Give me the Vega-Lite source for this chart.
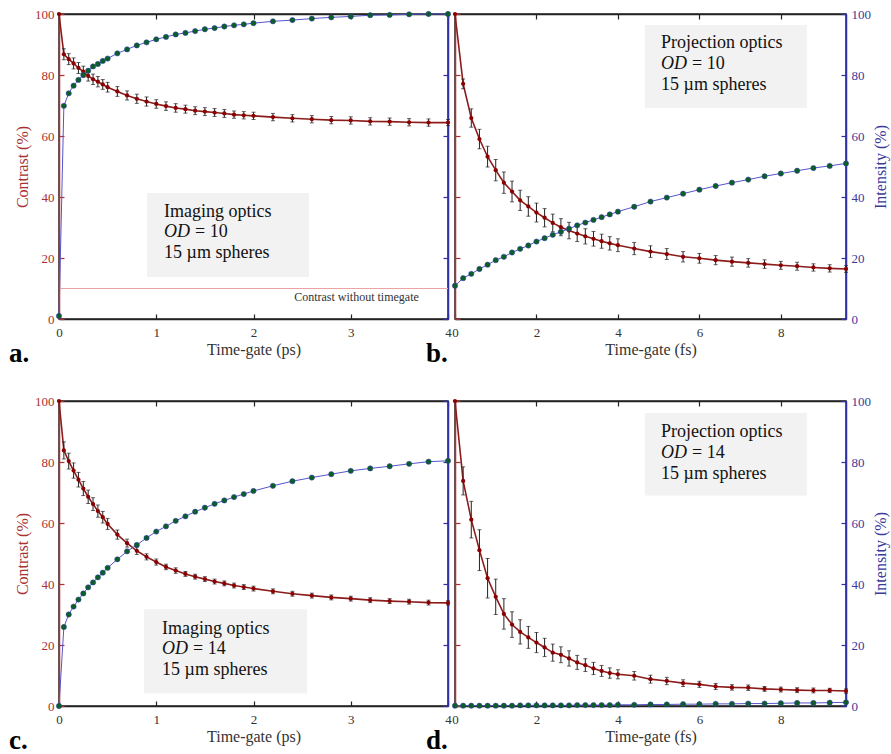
{
  "$schema": "https://vega.github.io/schema/vega-lite/v6.json",
  "padding": {"left": 8, "top": 7, "right": 1, "bottom": 0},
  "background": "white",
  "config": {
    "font": "Liberation Serif",
    "view": {"stroke": "#222", "strokeWidth": 1.5},
    "axis": {"grid": false, "tickSize": -5, "tickWidth": 1.2, "domainWidth": 1.5, "labelFont": "Liberation Serif", "titleFont": "Liberation Serif", "labelFontSize": 13, "titleFontSize": 16, "titleFontWeight": "normal", "labelPadding": 10, "titlePadding": 4, "labelFlush": false},
    "axisLeft": {"domainColor": "#b03030", "tickColor": "#b03030", "labelColor": "#a83232", "titleColor": "#a83232"},
    "axisRight": {"domainColor": "#3030a8", "tickColor": "#3030a8", "labelColor": "#3a3a9c", "titleColor": "#3a3a9c"},
    "axisBottom": {"domainColor": "#222", "tickColor": "#222", "labelColor": "#333", "titleColor": "#333", "labelPadding": 12, "titlePadding": 2},
    "axisTop": {"domainColor": "#222", "tickColor": "#222", "labels": false},
    "title": {"font": "Liberation Serif", "fontSize": 27, "fontWeight": "bold", "color": "black"}
  },
  "datasets": {
    "a": [
      {"t": 0, "c": 100, "e": 0, "i": 1},
      {"t": 0.05, "c": 86.8, "e": 1.8, "i": 69.9},
      {"t": 0.1, "c": 85.2, "e": 1.8, "i": 74.0},
      {"t": 0.15, "c": 83.8, "e": 1.8, "i": 76.5},
      {"t": 0.2, "c": 82.3, "e": 1.8, "i": 78.4},
      {"t": 0.25, "c": 81.1, "e": 1.8, "i": 80.0},
      {"t": 0.3, "c": 79.7, "e": 1.7, "i": 81.4},
      {"t": 0.35, "c": 78.6, "e": 1.7, "i": 82.8},
      {"t": 0.4, "c": 77.8, "e": 1.7, "i": 83.6},
      {"t": 0.45, "c": 76.9, "e": 1.6, "i": 84.6},
      {"t": 0.5, "c": 76.0, "e": 1.6, "i": 85.4},
      {"t": 0.6, "c": 74.6, "e": 1.6, "i": 87.1},
      {"t": 0.7, "c": 73.3, "e": 1.5, "i": 88.4},
      {"t": 0.8, "c": 72.2, "e": 1.5, "i": 89.7},
      {"t": 0.9, "c": 71.3, "e": 1.5, "i": 90.7},
      {"t": 1.0, "c": 70.5, "e": 1.4, "i": 91.7},
      {"t": 1.1, "c": 69.8, "e": 1.4, "i": 92.5},
      {"t": 1.2, "c": 69.2, "e": 1.4, "i": 93.3},
      {"t": 1.3, "c": 68.8, "e": 1.3, "i": 93.8},
      {"t": 1.4, "c": 68.3, "e": 1.3, "i": 94.4},
      {"t": 1.5, "c": 68.0, "e": 1.3, "i": 95.0},
      {"t": 1.6, "c": 67.7, "e": 1.3, "i": 95.4},
      {"t": 1.7, "c": 67.4, "e": 1.3, "i": 95.9},
      {"t": 1.8, "c": 67.0, "e": 1.2, "i": 96.3},
      {"t": 1.9, "c": 66.8, "e": 1.2, "i": 96.6},
      {"t": 2.0, "c": 66.6, "e": 1.2, "i": 97.0},
      {"t": 2.2, "c": 66.2, "e": 1.2, "i": 97.6},
      {"t": 2.4, "c": 65.8, "e": 1.2, "i": 98.0},
      {"t": 2.6, "c": 65.5, "e": 1.2, "i": 98.5},
      {"t": 2.8, "c": 65.2, "e": 1.2, "i": 98.9},
      {"t": 3.0, "c": 65.1, "e": 1.2, "i": 99.2},
      {"t": 3.2, "c": 64.8, "e": 1.2, "i": 99.6},
      {"t": 3.4, "c": 64.7, "e": 1.2, "i": 99.7},
      {"t": 3.6, "c": 64.5, "e": 1.2, "i": 99.9},
      {"t": 3.8, "c": 64.4, "e": 1.2, "i": 100},
      {"t": 4.0, "c": 64.4, "e": 1.0, "i": 100}
    ],
    "b": [
      {"t": 0, "c": 100, "e": 0, "i": 10.9},
      {"t": 0.2, "c": 77.1, "e": 1.6, "i": 13.4},
      {"t": 0.4, "c": 65.9, "e": 3.0, "i": 14.8},
      {"t": 0.6, "c": 59.0, "e": 3.2, "i": 16.4},
      {"t": 0.8, "c": 53.2, "e": 3.4, "i": 17.8},
      {"t": 1.0, "c": 48.8, "e": 3.5, "i": 19.3},
      {"t": 1.2, "c": 44.7, "e": 3.5, "i": 20.4},
      {"t": 1.4, "c": 41.8, "e": 3.4, "i": 21.8},
      {"t": 1.6, "c": 38.9, "e": 3.3, "i": 23.0},
      {"t": 1.8, "c": 36.9, "e": 3.2, "i": 24.1},
      {"t": 2.0, "c": 34.9, "e": 3.1, "i": 25.4},
      {"t": 2.2, "c": 33.2, "e": 3.0, "i": 26.5},
      {"t": 2.4, "c": 31.5, "e": 2.9, "i": 27.6},
      {"t": 2.6, "c": 30.1, "e": 2.8, "i": 28.6},
      {"t": 2.8, "c": 29.0, "e": 2.7, "i": 29.6},
      {"t": 3.0, "c": 28.0, "e": 2.6, "i": 30.7},
      {"t": 3.2, "c": 27.1, "e": 2.5, "i": 31.6},
      {"t": 3.4, "c": 26.3, "e": 2.4, "i": 32.5},
      {"t": 3.6, "c": 25.5, "e": 2.3, "i": 33.4},
      {"t": 3.8, "c": 24.8, "e": 2.2, "i": 34.3},
      {"t": 4.0, "c": 24.2, "e": 2.1, "i": 35.2},
      {"t": 4.4, "c": 23.1, "e": 2.0, "i": 36.8},
      {"t": 4.8, "c": 22.1, "e": 1.9, "i": 38.5},
      {"t": 5.2, "c": 21.3, "e": 1.8, "i": 39.8},
      {"t": 5.6, "c": 20.4, "e": 1.7, "i": 41.1},
      {"t": 6.0, "c": 19.9, "e": 1.6, "i": 42.4},
      {"t": 6.4, "c": 19.3, "e": 1.5, "i": 43.6},
      {"t": 6.8, "c": 18.8, "e": 1.5, "i": 44.7},
      {"t": 7.2, "c": 18.4, "e": 1.4, "i": 45.7},
      {"t": 7.6, "c": 18.0, "e": 1.4, "i": 46.8},
      {"t": 8.0, "c": 17.6, "e": 1.3, "i": 47.7},
      {"t": 8.4, "c": 17.3, "e": 1.3, "i": 48.6},
      {"t": 8.8, "c": 16.9, "e": 1.2, "i": 49.5},
      {"t": 9.2, "c": 16.6, "e": 1.2, "i": 50.2},
      {"t": 9.6, "c": 16.4, "e": 1.1, "i": 51.0}
    ],
    "c": [
      {"t": 0, "c": 100, "e": 0, "i": 0},
      {"t": 0.05, "c": 83.8, "e": 2.8, "i": 25.9},
      {"t": 0.1, "c": 80.3, "e": 2.6, "i": 30.0},
      {"t": 0.15, "c": 77.2, "e": 2.5, "i": 32.6},
      {"t": 0.2, "c": 74.2, "e": 2.4, "i": 34.9},
      {"t": 0.25, "c": 71.3, "e": 2.3, "i": 36.9},
      {"t": 0.3, "c": 68.6, "e": 2.2, "i": 38.9},
      {"t": 0.35, "c": 66.2, "e": 2.1, "i": 40.5},
      {"t": 0.4, "c": 63.9, "e": 2.0, "i": 42.2},
      {"t": 0.45, "c": 61.9, "e": 1.9, "i": 43.7},
      {"t": 0.5, "c": 59.7, "e": 1.8, "i": 45.3},
      {"t": 0.6, "c": 56.2, "e": 1.5, "i": 48.1},
      {"t": 0.7, "c": 53.4, "e": 1.3, "i": 50.7},
      {"t": 0.8, "c": 50.9, "e": 1.2, "i": 52.8},
      {"t": 0.9, "c": 48.9, "e": 1.0, "i": 55.1},
      {"t": 1.0, "c": 47.2, "e": 1.0, "i": 57.2},
      {"t": 1.1, "c": 45.6, "e": 0.9, "i": 58.9},
      {"t": 1.2, "c": 44.4, "e": 0.9, "i": 60.7},
      {"t": 1.3, "c": 43.3, "e": 0.8, "i": 62.2},
      {"t": 1.4, "c": 42.4, "e": 0.8, "i": 63.7},
      {"t": 1.5, "c": 41.6, "e": 0.8, "i": 65.0},
      {"t": 1.6, "c": 40.8, "e": 0.8, "i": 66.3},
      {"t": 1.7, "c": 40.2, "e": 0.8, "i": 67.4},
      {"t": 1.8, "c": 39.5, "e": 0.8, "i": 68.5},
      {"t": 1.9, "c": 39.0, "e": 0.8, "i": 69.5},
      {"t": 2.0, "c": 38.5, "e": 0.8, "i": 70.5},
      {"t": 2.2, "c": 37.6, "e": 0.8, "i": 72.2},
      {"t": 2.4, "c": 36.8, "e": 0.8, "i": 73.7},
      {"t": 2.6, "c": 36.2, "e": 0.8, "i": 74.9},
      {"t": 2.8, "c": 35.6, "e": 0.8, "i": 76.0},
      {"t": 3.0, "c": 35.2, "e": 0.8, "i": 77.1},
      {"t": 3.2, "c": 34.7, "e": 0.8, "i": 77.9},
      {"t": 3.4, "c": 34.4, "e": 0.8, "i": 78.6},
      {"t": 3.6, "c": 34.2, "e": 0.8, "i": 79.4},
      {"t": 3.8, "c": 33.9, "e": 0.8, "i": 80.1},
      {"t": 4.0, "c": 33.8, "e": 0.7, "i": 80.4}
    ],
    "d": [
      {"t": 0, "c": 100, "e": 0, "i": 0.1},
      {"t": 0.2, "c": 73.8, "e": 4.6, "i": 0.1},
      {"t": 0.4, "c": 61.1, "e": 6.0, "i": 0.1},
      {"t": 0.6, "c": 51.1, "e": 6.7, "i": 0.1},
      {"t": 0.8, "c": 41.9, "e": 6.5, "i": 0.1},
      {"t": 1.0, "c": 35.8, "e": 5.8, "i": 0.1},
      {"t": 1.2, "c": 30.2, "e": 5.0, "i": 0.1},
      {"t": 1.4, "c": 26.7, "e": 4.2, "i": 0.1},
      {"t": 1.6, "c": 24.3, "e": 4.0, "i": 0.2},
      {"t": 1.8, "c": 22.5, "e": 3.6, "i": 0.2},
      {"t": 2.0, "c": 20.8, "e": 3.3, "i": 0.2},
      {"t": 2.2, "c": 19.2, "e": 3.0, "i": 0.2},
      {"t": 2.4, "c": 17.5, "e": 2.8, "i": 0.2},
      {"t": 2.6, "c": 16.8, "e": 2.6, "i": 0.2},
      {"t": 2.8, "c": 15.6, "e": 2.5, "i": 0.2},
      {"t": 3.0, "c": 14.3, "e": 2.3, "i": 0.3},
      {"t": 3.2, "c": 13.4, "e": 2.1, "i": 0.3},
      {"t": 3.4, "c": 12.3, "e": 2.0, "i": 0.3},
      {"t": 3.6, "c": 11.5, "e": 1.8, "i": 0.3},
      {"t": 3.8, "c": 10.8, "e": 1.7, "i": 0.3},
      {"t": 4.0, "c": 10.4, "e": 1.5, "i": 0.4},
      {"t": 4.4, "c": 9.9, "e": 1.4, "i": 0.4},
      {"t": 4.8, "c": 8.8, "e": 1.3, "i": 0.5},
      {"t": 5.2, "c": 8.2, "e": 1.2, "i": 0.5},
      {"t": 5.6, "c": 7.5, "e": 1.1, "i": 0.6},
      {"t": 6.0, "c": 7.1, "e": 1.0, "i": 0.6},
      {"t": 6.4, "c": 6.4, "e": 1.0, "i": 0.7},
      {"t": 6.8, "c": 6.1, "e": 0.9, "i": 0.7},
      {"t": 7.2, "c": 6.0, "e": 0.9, "i": 0.8},
      {"t": 7.6, "c": 5.6, "e": 0.8, "i": 0.8},
      {"t": 8.0, "c": 5.4, "e": 0.8, "i": 0.9},
      {"t": 8.4, "c": 5.2, "e": 0.8, "i": 1.0},
      {"t": 8.8, "c": 5.1, "e": 0.8, "i": 1.0},
      {"t": 9.2, "c": 5.1, "e": 0.7, "i": 1.1},
      {"t": 9.6, "c": 4.9, "e": 0.7, "i": 1.2}
    ]
  },
  "bounds": "flush",
  "columns": 2,
  "spacing": {"row": 82, "column": 7},
  "concat": [
    {
      "width": 389, "height": 305,
      "title": {"text": "a.", "orient": "bottom", "anchor": "start", "frame": "group", "dx": -50, "dy": -16, "offset": 0},
      "layer": [
        {"data": {"values": [{}]}, "mark": {"type": "rect", "fill": "#f2f2f2"},
         "encoding": {
           "x": {"datum": 0.905, "type": "quantitative", "scale": {"domain": [0, 4], "nice": false, "zero": false}, "axis": {"orient": "bottom", "values": [0, 1, 2, 3, 4], "title": "Time-gate (ps)"}},
           "x2": {"datum": 2.571},
           "y": {"datum": 41.3, "type": "quantitative", "scale": {"domain": [0, 100], "nice": false}, "axis": {"orient": "left", "values": [0, 20, 40, 60, 80, 100], "title": "Contrast (%)"}},
           "y2": {"datum": 13.8}}},
        {"data": {"values": [{}]}, "mark": {"type": "text", "align": "left", "baseline": "middle", "fontSize": 18, "color": "#111"},
         "encoding": {"x": {"datum": 1.08, "type": "quantitative", "axis": null}, "y": {"datum": 35.1, "type": "quantitative", "axis": null}, "text": {"value": "Imaging optics"}}},
        {"data": {"values": [{}]}, "mark": {"type": "text", "align": "left", "baseline": "middle", "fontSize": 18, "fontStyle": "italic", "color": "#111"},
         "encoding": {"x": {"datum": 1.08, "type": "quantitative", "axis": null}, "y": {"datum": 28.5, "type": "quantitative", "axis": null}, "text": {"value": "OD"}}},
        {"data": {"values": [{}]}, "mark": {"type": "text", "align": "left", "baseline": "middle", "fontSize": 18, "dx": 31, "color": "#111"},
         "encoding": {"x": {"datum": 1.08, "type": "quantitative", "axis": null}, "y": {"datum": 28.5, "type": "quantitative", "axis": null}, "text": {"value": "= 10"}}},
        {"data": {"values": [{}]}, "mark": {"type": "text", "align": "left", "baseline": "middle", "fontSize": 18, "color": "#111"},
         "encoding": {"x": {"datum": 1.08, "type": "quantitative", "axis": null}, "y": {"datum": 21.6, "type": "quantitative", "axis": null}, "text": {"value": "15 µm spheres"}}},
        {"data": {"values": [{}]}, "mark": {"type": "rule", "color": "#eba3a3", "strokeWidth": 1},
         "encoding": {"x": {"datum": 0, "type": "quantitative", "axis": null}, "x2": {"datum": 4}, "y": {"datum": 10, "type": "quantitative", "axis": null}}},
        {"data": {"values": [{}]}, "mark": {"type": "text", "align": "right", "baseline": "middle", "fontSize": 12, "color": "#333"},
         "encoding": {"x": {"datum": 3.7, "type": "quantitative", "axis": null}, "y": {"datum": 7.2, "type": "quantitative", "axis": null}, "text": {"value": "Contrast without timegate"}}},
        {"data": {"name": "a"}, "mark": {"type": "line", "color": "#8b1c1c", "strokeWidth": 1.6},
         "encoding": {"x": {"field": "t", "type": "quantitative", "axis": null}, "y": {"field": "c", "type": "quantitative", "axis": null}}},
        {"data": {"name": "a"}, "mark": {"type": "errorbar", "color": "#222", "thickness": 1, "ticks": {"size": 4, "thickness": 1, "color": "#222"}},
         "encoding": {"x": {"field": "t", "type": "quantitative", "axis": null}, "y": {"field": "c", "type": "quantitative", "axis": null}, "yError": {"field": "e"}}},
        {"data": {"name": "a"}, "mark": {"type": "circle", "color": "#8b0000", "size": 18, "opacity": 1},
         "encoding": {"x": {"field": "t", "type": "quantitative", "axis": null}, "y": {"field": "c", "type": "quantitative", "axis": null}}},
        {"data": {"name": "a"}, "mark": {"type": "line", "color": "#5555cc", "strokeWidth": 1},
         "encoding": {"x": {"field": "t", "type": "quantitative", "axis": null}, "y": {"field": "i", "type": "quantitative", "axis": null}}},
        {"data": {"name": "a"}, "mark": {"type": "point", "shape": "circle", "filled": true, "fill": "#0a5f24", "stroke": "#3a3ab8", "strokeWidth": 0.5, "size": 28, "opacity": 1},
         "encoding": {"x": {"field": "t", "type": "quantitative", "axis": {"orient": "top", "values": [0, 1, 2, 3, 4], "title": null, "labels": false}},
                      "y": {"field": "i", "type": "quantitative", "axis": {"orient": "right", "values": [0, 20, 40, 60, 80, 100], "labels": false, "title": null}}}}
      ]
    },
    {
      "width": 391, "height": 305,
      "title": {"text": "b.", "orient": "bottom", "anchor": "start", "frame": "group", "dx": -29, "dy": -16, "offset": 0},
      "layer": [
        {"data": {"values": [{}]}, "mark": {"type": "rect", "fill": "#f2f2f2"},
         "encoding": {
           "x": {"datum": 4.66, "type": "quantitative", "scale": {"domain": [0, 9.6], "nice": false, "zero": false}, "axis": {"orient": "bottom", "values": [0, 2, 4, 6, 8], "title": "Time-gate (fs)"}},
           "x2": {"datum": 8.64},
           "y": {"datum": 96.4, "type": "quantitative", "scale": {"domain": [0, 100], "nice": false}, "axis": {"orient": "left", "values": [0, 20, 40, 60, 80, 100], "labels": false, "title": null}},
           "y2": {"datum": 69.2}}},
        {"data": {"values": [{}]}, "mark": {"type": "text", "align": "left", "baseline": "middle", "fontSize": 18, "color": "#111"},
         "encoding": {"x": {"datum": 5.06, "type": "quantitative", "axis": null}, "y": {"datum": 90.5, "type": "quantitative", "axis": null}, "text": {"value": "Projection optics"}}},
        {"data": {"values": [{}]}, "mark": {"type": "text", "align": "left", "baseline": "middle", "fontSize": 18, "fontStyle": "italic", "color": "#111"},
         "encoding": {"x": {"datum": 5.06, "type": "quantitative", "axis": null}, "y": {"datum": 83.6, "type": "quantitative", "axis": null}, "text": {"value": "OD"}}},
        {"data": {"values": [{}]}, "mark": {"type": "text", "align": "left", "baseline": "middle", "fontSize": 18, "dx": 31, "color": "#111"},
         "encoding": {"x": {"datum": 5.06, "type": "quantitative", "axis": null}, "y": {"datum": 83.6, "type": "quantitative", "axis": null}, "text": {"value": "= 10"}}},
        {"data": {"values": [{}]}, "mark": {"type": "text", "align": "left", "baseline": "middle", "fontSize": 18, "color": "#111"},
         "encoding": {"x": {"datum": 5.06, "type": "quantitative", "axis": null}, "y": {"datum": 76.7, "type": "quantitative", "axis": null}, "text": {"value": "15 µm spheres"}}},
        {"data": {"name": "b"}, "mark": {"type": "line", "color": "#8b1c1c", "strokeWidth": 1.6},
         "encoding": {"x": {"field": "t", "type": "quantitative", "axis": null}, "y": {"field": "c", "type": "quantitative", "axis": null}}},
        {"data": {"name": "b"}, "mark": {"type": "errorbar", "color": "#222", "thickness": 1, "ticks": {"size": 4, "thickness": 1, "color": "#222"}},
         "encoding": {"x": {"field": "t", "type": "quantitative", "axis": null}, "y": {"field": "c", "type": "quantitative", "axis": null}, "yError": {"field": "e"}}},
        {"data": {"name": "b"}, "mark": {"type": "circle", "color": "#8b0000", "size": 18, "opacity": 1},
         "encoding": {"x": {"field": "t", "type": "quantitative", "axis": null}, "y": {"field": "c", "type": "quantitative", "axis": null}}},
        {"data": {"name": "b"}, "mark": {"type": "line", "color": "#5555cc", "strokeWidth": 1},
         "encoding": {"x": {"field": "t", "type": "quantitative", "axis": null}, "y": {"field": "i", "type": "quantitative", "axis": null}}},
        {"data": {"name": "b"}, "mark": {"type": "point", "shape": "circle", "filled": true, "fill": "#0a5f24", "stroke": "#3a3ab8", "strokeWidth": 0.5, "size": 28, "opacity": 1},
         "encoding": {"x": {"field": "t", "type": "quantitative", "axis": {"orient": "top", "values": [0, 2, 4, 6, 8], "title": null, "labels": false}},
                      "y": {"field": "i", "type": "quantitative", "axis": {"orient": "right", "values": [0, 20, 40, 60, 80, 100], "title": "Intensity (%)", "titleAngle": 270, "titleBaseline": "top", "titlePadding": 2}}}}
      ]
    },
    {
      "width": 389, "height": 305,
      "title": {"text": "c.", "orient": "bottom", "anchor": "start", "frame": "group", "dx": -50, "dy": -16, "offset": 0},
      "layer": [
        {"data": {"values": [{}]}, "mark": {"type": "rect", "fill": "#f2f2f2"},
         "encoding": {
           "x": {"datum": 0.874, "type": "quantitative", "scale": {"domain": [0, 4], "nice": false, "zero": false}, "axis": {"orient": "bottom", "values": [0, 1, 2, 3, 4], "title": "Time-gate (ps)"}},
           "x2": {"datum": 2.55},
           "y": {"datum": 31.7, "type": "quantitative", "scale": {"domain": [0, 100], "nice": false}, "axis": {"orient": "left", "values": [0, 20, 40, 60, 80, 100], "title": "Contrast (%)"}},
           "y2": {"datum": 4.2}}},
        {"data": {"values": [{}]}, "mark": {"type": "text", "align": "left", "baseline": "middle", "fontSize": 18, "color": "#111"},
         "encoding": {"x": {"datum": 1.06, "type": "quantitative", "axis": null}, "y": {"datum": 25.2, "type": "quantitative", "axis": null}, "text": {"value": "Imaging optics"}}},
        {"data": {"values": [{}]}, "mark": {"type": "text", "align": "left", "baseline": "middle", "fontSize": 18, "fontStyle": "italic", "color": "#111"},
         "encoding": {"x": {"datum": 1.06, "type": "quantitative", "axis": null}, "y": {"datum": 18.6, "type": "quantitative", "axis": null}, "text": {"value": "OD"}}},
        {"data": {"values": [{}]}, "mark": {"type": "text", "align": "left", "baseline": "middle", "fontSize": 18, "dx": 31, "color": "#111"},
         "encoding": {"x": {"datum": 1.06, "type": "quantitative", "axis": null}, "y": {"datum": 18.6, "type": "quantitative", "axis": null}, "text": {"value": "= 14"}}},
        {"data": {"values": [{}]}, "mark": {"type": "text", "align": "left", "baseline": "middle", "fontSize": 18, "color": "#111"},
         "encoding": {"x": {"datum": 1.06, "type": "quantitative", "axis": null}, "y": {"datum": 11.8, "type": "quantitative", "axis": null}, "text": {"value": "15 µm spheres"}}},
        {"data": {"name": "c"}, "mark": {"type": "line", "color": "#8b1c1c", "strokeWidth": 1.6},
         "encoding": {"x": {"field": "t", "type": "quantitative", "axis": null}, "y": {"field": "c", "type": "quantitative", "axis": null}}},
        {"data": {"name": "c"}, "mark": {"type": "errorbar", "color": "#222", "thickness": 1, "ticks": {"size": 4, "thickness": 1, "color": "#222"}},
         "encoding": {"x": {"field": "t", "type": "quantitative", "axis": null}, "y": {"field": "c", "type": "quantitative", "axis": null}, "yError": {"field": "e"}}},
        {"data": {"name": "c"}, "mark": {"type": "circle", "color": "#8b0000", "size": 18, "opacity": 1},
         "encoding": {"x": {"field": "t", "type": "quantitative", "axis": null}, "y": {"field": "c", "type": "quantitative", "axis": null}}},
        {"data": {"name": "c"}, "mark": {"type": "line", "color": "#5555cc", "strokeWidth": 1},
         "encoding": {"x": {"field": "t", "type": "quantitative", "axis": null}, "y": {"field": "i", "type": "quantitative", "axis": null}}},
        {"data": {"name": "c"}, "mark": {"type": "point", "shape": "circle", "filled": true, "fill": "#0a5f24", "stroke": "#3a3ab8", "strokeWidth": 0.5, "size": 28, "opacity": 1},
         "encoding": {"x": {"field": "t", "type": "quantitative", "axis": {"orient": "top", "values": [0, 1, 2, 3, 4], "title": null, "labels": false}},
                      "y": {"field": "i", "type": "quantitative", "axis": {"orient": "right", "values": [0, 20, 40, 60, 80, 100], "labels": false, "title": null}}}}
      ]
    },
    {
      "width": 391, "height": 305,
      "title": {"text": "d.", "orient": "bottom", "anchor": "start", "frame": "group", "dx": -29, "dy": -16, "offset": 0},
      "layer": [
        {"data": {"values": [{}]}, "mark": {"type": "rect", "fill": "#f2f2f2"},
         "encoding": {
           "x": {"datum": 4.66, "type": "quantitative", "scale": {"domain": [0, 9.6], "nice": false, "zero": false}, "axis": {"orient": "bottom", "values": [0, 2, 4, 6, 8], "title": "Time-gate (fs)"}},
           "x2": {"datum": 8.64},
           "y": {"datum": 96.1, "type": "quantitative", "scale": {"domain": [0, 100], "nice": false}, "axis": {"orient": "left", "values": [0, 20, 40, 60, 80, 100], "labels": false, "title": null}},
           "y2": {"datum": 69.0}}},
        {"data": {"values": [{}]}, "mark": {"type": "text", "align": "left", "baseline": "middle", "fontSize": 18, "color": "#111"},
         "encoding": {"x": {"datum": 5.06, "type": "quantitative", "axis": null}, "y": {"datum": 89.9, "type": "quantitative", "axis": null}, "text": {"value": "Projection optics"}}},
        {"data": {"values": [{}]}, "mark": {"type": "text", "align": "left", "baseline": "middle", "fontSize": 18, "fontStyle": "italic", "color": "#111"},
         "encoding": {"x": {"datum": 5.06, "type": "quantitative", "axis": null}, "y": {"datum": 83.0, "type": "quantitative", "axis": null}, "text": {"value": "OD"}}},
        {"data": {"values": [{}]}, "mark": {"type": "text", "align": "left", "baseline": "middle", "fontSize": 18, "dx": 31, "color": "#111"},
         "encoding": {"x": {"datum": 5.06, "type": "quantitative", "axis": null}, "y": {"datum": 83.0, "type": "quantitative", "axis": null}, "text": {"value": "= 14"}}},
        {"data": {"values": [{}]}, "mark": {"type": "text", "align": "left", "baseline": "middle", "fontSize": 18, "color": "#111"},
         "encoding": {"x": {"datum": 5.06, "type": "quantitative", "axis": null}, "y": {"datum": 76.1, "type": "quantitative", "axis": null}, "text": {"value": "15 µm spheres"}}},
        {"data": {"name": "d"}, "mark": {"type": "line", "color": "#8b1c1c", "strokeWidth": 1.6},
         "encoding": {"x": {"field": "t", "type": "quantitative", "axis": null}, "y": {"field": "c", "type": "quantitative", "axis": null}}},
        {"data": {"name": "d"}, "mark": {"type": "errorbar", "color": "#222", "thickness": 1, "ticks": {"size": 4, "thickness": 1, "color": "#222"}},
         "encoding": {"x": {"field": "t", "type": "quantitative", "axis": null}, "y": {"field": "c", "type": "quantitative", "axis": null}, "yError": {"field": "e"}}},
        {"data": {"name": "d"}, "mark": {"type": "circle", "color": "#8b0000", "size": 18, "opacity": 1},
         "encoding": {"x": {"field": "t", "type": "quantitative", "axis": null}, "y": {"field": "c", "type": "quantitative", "axis": null}}},
        {"data": {"name": "d"}, "mark": {"type": "line", "color": "#5555cc", "strokeWidth": 1},
         "encoding": {"x": {"field": "t", "type": "quantitative", "axis": null}, "y": {"field": "i", "type": "quantitative", "axis": null}}},
        {"data": {"name": "d"}, "mark": {"type": "point", "shape": "circle", "filled": true, "fill": "#0a5f24", "stroke": "#3a3ab8", "strokeWidth": 0.5, "size": 28, "opacity": 1},
         "encoding": {"x": {"field": "t", "type": "quantitative", "axis": {"orient": "top", "values": [0, 2, 4, 6, 8], "title": null, "labels": false}},
                      "y": {"field": "i", "type": "quantitative", "axis": {"orient": "right", "values": [0, 20, 40, 60, 80, 100], "title": "Intensity (%)", "titleAngle": 270, "titleBaseline": "top", "titlePadding": 2}}}}
      ]
    }
  ]
}
